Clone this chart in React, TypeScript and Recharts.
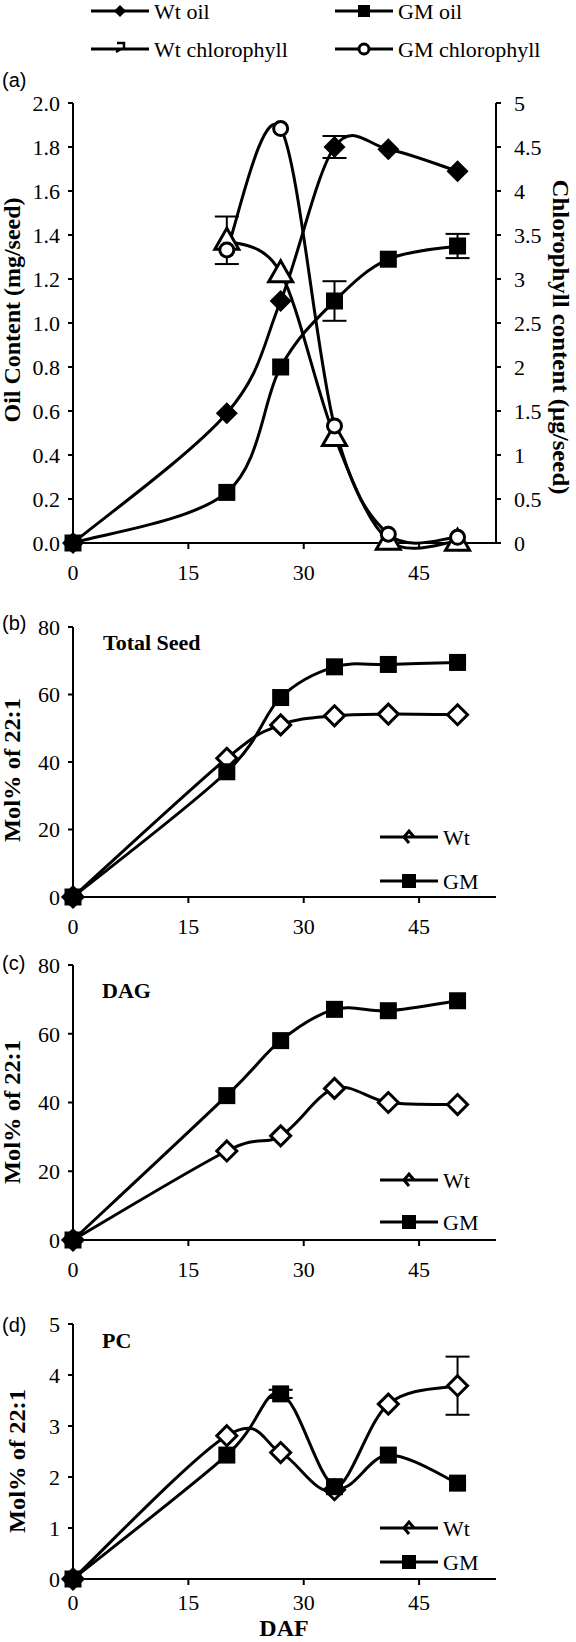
import React from "react";
import { LineChart, Line, XAxis, YAxis, ErrorBar } from "recharts";

// days after flowering, shared by all four panels
const daf = [0, 20, 27, 34, 41, 50];

// (a) oil content, mg/seed (left axis)
const wtOil = [0, 0.59, 1.1, 1.8, 1.79, 1.69];
const wtOilErr = [0, 0, 0, 0.05, 0, 0];
const gmOil = [0, 0.23, 0.8, 1.1, 1.29, 1.35];
const gmOilErr = [0, 0, 0, 0.09, 0, 0.055];

// (a) chlorophyll, ug/seed (right axis)
const wtChl = [null, 3.44, 3.07, 1.21, 0.03, 0.02];
const wtChlErr = [0, 0.27, 0, 0, 0, 0];
const gmChl = [null, 3.33, 4.71, 1.33, 0.1, 0.065];

// (b) total seed, mol% 22:1
const seedWt = [0, 41.1, 51, 53.7, 54.2, 54];
const seedGm = [0, 37.1, 59.1, 68.2, 68.9, 69.5];

// (c) DAG
const dagWt = [0, 25.9, 30.3, 44.1, 40, 39.4];
const dagGm = [0, 42, 58, 67.1, 66.7, 69.6];

// (d) PC
const pcWt = [0, 2.81, 2.48, 1.75, 3.43, 3.79];
const pcWtErr = [0, 0, 0, 0, 0, 0.57];
const pcGm = [0, 2.43, 3.63, 1.81, 2.43, 1.88];
const pcGmErr = [0, 0, 0.08, 0, 0, 0];

const xTicks = [0, 15, 30, 45];
const oilTicks = [0, 0.2, 0.4, 0.6, 0.8, 1.0, 1.2, 1.4, 1.6, 1.8, 2.0];
const chlTicks = [0, 0.5, 1, 1.5, 2, 2.5, 3, 3.5, 4, 4.5, 5];
const molTicks = [0, 20, 40, 60, 80];
const pcTicks = [0, 1, 2, 3, 4, 5];

const oilData = daf.map((d, i) => ({
  daf: d,
  wtOil: wtOil[i], wtOilErr: wtOilErr[i],
  gmOil: gmOil[i], gmOilErr: gmOilErr[i],
  wtChl: wtChl[i], wtChlErr: wtChlErr[i],
  gmChl: gmChl[i],
}));
const seedData = daf.map((d, i) => ({ daf: d, wt: seedWt[i], gm: seedGm[i] }));
const dagData = daf.map((d, i) => ({ daf: d, wt: dagWt[i], gm: dagGm[i] }));
const pcData = daf.map((d, i) => ({
  daf: d, wt: pcWt[i], wtErr: pcWtErr[i], gm: pcGm[i], gmErr: pcGmErr[i],
}));

const SERIF = "Liberation Serif, Tinos, Times New Roman, serif";
const SANS = "Liberation Sans, Arimo, Arial, sans-serif";

// excel-style smoothed line (catmull-rom through the points)
function excelSmooth(context: any) {
  let pts: number[][] = [];
  return {
    areaStart() {},
    areaEnd() {},
    lineStart() { pts = []; },
    point(x: number, y: number) { pts.push([+x, +y]); },
    lineEnd() {
      if (!pts.length) return;
      context.moveTo(pts[0][0], pts[0][1]);
      for (let i = 0; i < pts.length - 1; i++) {
        const p0 = pts[i - 1] || pts[i];
        const p1 = pts[i];
        const p2 = pts[i + 1];
        const p3 = pts[i + 2] || p2;
        context.bezierCurveTo(
          p1[0] + (p2[0] - p0[0]) / 6, p1[1] + (p2[1] - p0[1]) / 6,
          p2[0] - (p3[0] - p1[0]) / 6, p2[1] - (p3[1] - p1[1]) / 6,
          p2[0], p2[1]
        );
      }
    },
  };
}

const filledDiamond = (x: number, y: number, r = 11) => (
  <polygon points={`${x},${y - r} ${x + r},${y} ${x},${y + r} ${x - r},${y}`} fill="#000" />
);
const openDiamond = (x: number, y: number, r = 10) => (
  <polygon points={`${x},${y - r} ${x + r},${y} ${x},${y + r} ${x - r},${y}`}
    fill="#fff" stroke="#000" strokeWidth={3} />
);
const square = (x: number, y: number, s = 17) => (
  <rect x={x - s / 2} y={y - s / 2} width={s} height={s} fill="#000" />
);
const openTriangle = (x: number, y: number) => (
  <polygon points={`${x},${y - 12} ${x + 12},${y + 9} ${x - 12},${y + 9}`}
    fill="#fff" stroke="#000" strokeWidth={3} strokeLinejoin="miter" />
);
const openCircle = (x: number, y: number, r = 7) => (
  <circle cx={x} cy={y} r={r} fill="#fff" stroke="#000" strokeWidth={3} />
);

const dotOf = (draw: (x: number, y: number) => React.ReactElement) => (p: any) =>
  p.cx == null || p.cy == null || p.value == null
    ? <g key={`e-${p.index}`} />
    : <g key={`m-${p.index}`}>{draw(p.cx, p.cy)}</g>;

const tickStyle = { fontSize: 22, fill: "#000", fontFamily: SERIF };
const axisStroke = { stroke: "#000", strokeWidth: 2 };

const lineProps = {
  stroke: "#000",
  strokeWidth: 3,
  type: excelSmooth as any,
  isAnimationActive: false,
  activeDot: false as const,
};

function xAxis(gap = 15) {
  return (
    <XAxis
      dataKey="daf" type="number" domain={[0, 55]} ticks={xTicks}
      tick={tickStyle} axisLine={axisStroke} tickLine={axisStroke}
      tickSize={6} tickMargin={gap} height={40}
    />
  );
}

function PanelA() {
  return (
    <LineChart width={576} height={600} data={oilData}
      margin={{ top: 103, right: 0, bottom: 17, left: 0 }}>
      {xAxis()}
      <YAxis yAxisId="left" domain={[0, 2]} ticks={oilTicks} width={73}
        tickFormatter={(v) => Number(v).toFixed(1)}
        tick={tickStyle} axisLine={axisStroke} tickLine={axisStroke}
        tickSize={5} tickMargin={8} />
      <YAxis yAxisId="right" orientation="right" domain={[0, 5]} ticks={chlTicks} width={80}
        tick={{ ...tickStyle, textAnchor: "start" }} axisLine={axisStroke} tickLine={axisStroke}
        tickSize={5} tickMargin={13} />
      <Line yAxisId="left" dataKey="wtOil" {...lineProps} dot={dotOf((x, y) => filledDiamond(x, y))}>
        <ErrorBar dataKey="wtOilErr" direction="y" width={12} strokeWidth={2} stroke="#000" />
      </Line>
      <Line yAxisId="left" dataKey="gmOil" {...lineProps} dot={dotOf((x, y) => square(x, y))}>
        <ErrorBar dataKey="gmOilErr" direction="y" width={12} strokeWidth={2} stroke="#000" />
      </Line>
      <Line yAxisId="right" dataKey="wtChl" {...lineProps} dot={dotOf(openTriangle)}>
        <ErrorBar dataKey="wtChlErr" direction="y" width={12} strokeWidth={2} stroke="#000" />
      </Line>
      <Line yAxisId="right" dataKey="gmChl" {...lineProps} dot={dotOf((x, y) => openCircle(x, y))} />
    </LineChart>
  );
}

function MolPanel({ data, ticks, max, height, top, bottom, gap = 15 }: any) {
  return (
    <LineChart width={576} height={height} data={data}
      margin={{ top, right: 80, bottom, left: 0 }}>
      {xAxis(gap)}
      <YAxis domain={[0, max]} ticks={ticks} width={73}
        tick={tickStyle} axisLine={axisStroke} tickLine={axisStroke}
        tickSize={5} tickMargin={8} />
      <Line dataKey="wt" {...lineProps} dot={dotOf((x, y) => openDiamond(x, y))}>
        {data[0].wtErr !== undefined && (
          <ErrorBar dataKey="wtErr" direction="y" width={12} strokeWidth={2} stroke="#000" />
        )}
      </Line>
      <Line dataKey="gm" {...lineProps} dot={dotOf((x, y) => square(x, y))}>
        {data[0].gmErr !== undefined && (
          <ErrorBar dataKey="gmErr" direction="y" width={12} strokeWidth={2} stroke="#000" />
        )}
      </Line>
    </LineChart>
  );
}

// small legend entries: line with marker glyph and label
function LegendItem({ x, y, label, glyph }: any) {
  return (
    <g>
      <line x1={x} y1={y} x2={x + 58} y2={y} stroke="#000" strokeWidth={3} />
      {glyph(x + 29, y)}
      <text x={x + 63} y={y + 8} style={{ fontFamily: SERIF, fontSize: 22 }}>{label}</text>
    </g>
  );
}

const halfDiamond = (x: number, y: number) => (
  <path d={`M${x + 5} ${y} L${x} ${y - 6} L${x - 5} ${y} L${x} ${y + 6}`}
    fill="none" stroke="#000" strokeWidth={3} />
);
const oddTriangle = (x: number, y: number) => (
  <path d={`M${x - 3} ${y - 6} L${x + 4} ${y - 6} L${x + 4} ${y - 1} M${x - 4} ${y + 3} L${x + 1} ${y}`}
    fill="none" stroke="#000" strokeWidth={2.5} />
);

function VTitle({ x, y, angle, len, children }: any) {
  return (
    <text transform={`translate(${x} ${y}) rotate(${angle})`} textAnchor="middle"
      dominantBaseline="central" textLength={len} lengthAdjust="spacingAndGlyphs"
      style={{ fontFamily: SERIF, fontSize: 24, fontWeight: 700 }}>
      {children}
    </text>
  );
}

function Overlay() {
  const tag = { fontFamily: SANS, fontSize: 20 };
  const sub = { fontFamily: SERIF, fontSize: 22, fontWeight: 700 };
  return (
    <svg width={576} height={1642}
      style={{ position: "absolute", left: 0, top: 0, pointerEvents: "none" }}>
      <LegendItem x={91} y={11} label="Wt oil" glyph={(x: number, y: number) => filledDiamond(x, y, 6)} />
      <LegendItem x={335} y={11} label="GM oil" glyph={(x: number, y: number) => square(x, y, 12)} />
      <LegendItem x={91} y={49} label="Wt chlorophyll" glyph={oddTriangle} />
      <LegendItem x={335} y={49} label="GM chlorophyll" glyph={(x: number, y: number) => openCircle(x, y, 5)} />

      <text x={2} y={87} style={tag}>(a)</text>
      <text x={2} y={630} style={tag}>(b)</text>
      <text x={2} y={970} style={tag}>(c)</text>
      <text x={2} y={1332} style={tag}>(d)</text>

      <text x={103} y={650} style={sub}>Total Seed</text>
      <text x={102} y={998} style={sub}>DAG</text>
      <text x={102} y={1348} style={sub}>PC</text>

      <VTitle x={12} y={310} angle={-90} len={225}>Oil Content (mg/seed)</VTitle>
      <VTitle x={561} y={337} angle={90} len={315}>Chlorophyll content (µg/seed)</VTitle>
      <VTitle x={12} y={770} angle={-90} len={144}>Mol% of 22:1</VTitle>
      <VTitle x={12} y={1112} angle={-90} len={144}>Mol% of 22:1</VTitle>
      <VTitle x={17} y={1461} angle={-90} len={144}>Mol% of 22:1</VTitle>
      <text x={284} y={1636} textAnchor="middle"
        style={{ fontFamily: SERIF, fontSize: 24, fontWeight: 700 }}>DAF</text>

      <LegendItem x={380} y={837} label="Wt" glyph={halfDiamond} />
      <LegendItem x={380} y={881} label="GM" glyph={(x: number, y: number) => square(x, y, 14)} />
      <LegendItem x={380} y={1180} label="Wt" glyph={halfDiamond} />
      <LegendItem x={380} y={1222} label="GM" glyph={(x: number, y: number) => square(x, y, 14)} />
      <LegendItem x={380} y={1528} label="Wt" glyph={halfDiamond} />
      <LegendItem x={380} y={1562} label="GM" glyph={(x: number, y: number) => square(x, y, 14)} />
    </svg>
  );
}

export default function App() {
  return (
    <div style={{ position: "absolute", left: 0, top: 0, width: 576, height: 1642, background: "#fff", overflow: "hidden", fontFamily: SERIF }}>
      <div style={{ position: "absolute", left: 0, top: 0 }}>
        <PanelA />
      </div>
      <div style={{ position: "absolute", left: 0, top: 590 }}>
        <MolPanel data={seedData} ticks={molTicks} max={80} height={350} top={37} bottom={3} />
      </div>
      <div style={{ position: "absolute", left: 0, top: 940 }}>
        <MolPanel data={dagData} ticks={molTicks} max={80} height={350} top={25} bottom={10} />
      </div>
      <div style={{ position: "absolute", left: 0, top: 1290 }}>
        <MolPanel data={pcData} ticks={pcTicks} max={5} height={352} top={34} bottom={23} gap={9} />
      </div>
      <Overlay />
    </div>
  );
}
